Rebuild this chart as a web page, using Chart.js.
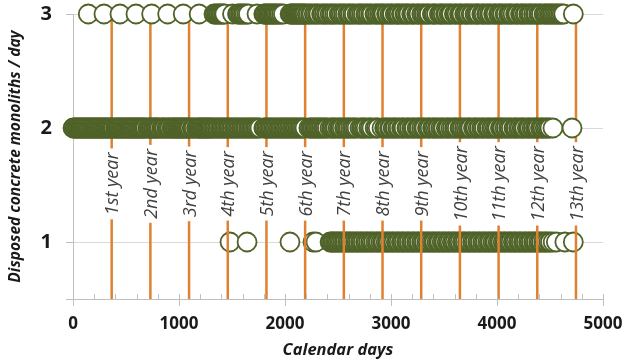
<!DOCTYPE html>
<html>
<head>
<meta charset="utf-8">
<script src="https://cdn.jsdelivr.net/npm/chart.js@4"></script>
<style>
  body { margin: 0; background: #fff; }
  #wrap { width: 625px; height: 364px; position: relative; }
</style>
</head>
<body>
<div id="wrap"><canvas id="disposal-chart"></canvas></div>
<script>
// calendar days on which 3, 2 or 1 monoliths were disposed
const level3Days = [144, 292, 443, 594, 742, 893, 1040, 1190,
  1330, 1342, 1356, 1368, 1380, 1394, 1406, 1420, 1432, 1505,
  1552, 1566, 1580, 1594, 1608, 1622, 1640, 1655, 1736,
  1800, 1810, 1822, 1833, 1845, 1856, 1868, 1879, 1891, 1902, 1914, 1926, 1940, 1952, 1968, 1985,
  2048, 2058, 2068, 2079, 2089, 2099, 2110, 2120, 2130, 2141, 2151, 2161, 2172, 2182, 2192,
  2210, 2224, 2242, 2255, 2276, 2290, 2306, 2320, 2345, 2358, 2372, 2390, 2404, 2425, 2440, 2452, 2470,
  2486, 2510, 2522, 2538, 2555, 2570, 2592, 2606, 2620, 2640, 2654, 2680, 2694, 2708, 2725, 2740, 2762,
  2775, 2790, 2808, 2822, 2848, 2860, 2875, 2892, 2908, 2922, 2934, 2958, 2970, 2990, 3004, 3015, 3040,
  3052, 3066, 3078, 3098, 3110, 3132, 3142, 3158, 3170, 3195, 3206, 3218, 3242, 3256, 3265, 3290, 3304,
  3318, 3336, 3350, 3362, 3390, 3400, 3414, 3430, 3456, 3468, 3480, 3494, 3515, 3528, 3548, 3560, 3572,
  3598, 3610, 3624, 3646, 3658, 3670, 3695, 3708, 3720, 3735, 3756, 3768, 3792, 3804, 3816, 3830, 3856,
  3868, 3880, 3902, 3914, 3930, 3944, 3968, 3980, 3992, 4015, 4026, 4040, 4054, 4076, 4088, 4110, 4122,
  4134, 4152, 4175, 4186, 4198, 4222, 4234, 4246, 4265, 4278, 4300, 4312, 4325, 4345, 4362, 4374, 4394,
  4406, 4420, 4444, 4456, 4468, 4484, 4500, 4512, 4526, 4540, 4556, 4570, 4585, 4600, 4615, 4630, 4720];

const level2Days = [0, 9, 21, 30, 41, 50, 62, 71, 80, 92, 101, 113, 122, 131, 143, 152, 164, 173, 182, 194,
  203, 215, 224, 233, 245, 254, 266, 275, 284, 296, 305, 317, 326, 335, 347, 356, 368, 377, 386, 402, 411,
  423, 432, 441, 453, 462, 474, 483, 492, 504, 513, 525, 534, 543, 555, 564, 576, 585, 594, 606, 615, 627,
  636, 645, 657, 666, 678, 687, 706, 715, 727, 736, 745, 757, 766, 778, 787, 796, 808, 820, 838, 847, 859,
  868, 886, 895, 907, 916, 934, 943, 952, 964, 973, 985, 994, 1003, 1015, 1024, 1036, 1045, 1054, 1066,
  1075, 1087, 1096, 1105, 1124, 1133, 1145, 1165, 1174, 1186, 1195, 1207, 1216, 1228, 1237, 1246, 1258,
  1267, 1279, 1288, 1297,
  1310, 1322, 1336, 1348, 1362, 1374, 1390, 1402, 1415, 1428, 1440, 1455, 1468, 1480, 1494, 1506, 1522,
  1534, 1548, 1560, 1574, 1588, 1600, 1614, 1628, 1640, 1656, 1668, 1682, 1694, 1708, 1722, 1734, 1748,
  1764, 1800, 1812, 1826, 1838, 1852, 1866, 1878, 1892, 1906, 1918, 1934, 1946, 1960, 1972, 1986, 2000,
  2012, 2026, 2040, 2052, 2068, 2080, 2094, 2106, 2120, 2134, 2146, 2160, 2174, 2189, 2225, 2238, 2252,
  2264, 2278, 2292, 2304, 2318, 2332, 2344, 2360, 2372, 2386, 2400, 2424, 2440, 2452, 2466, 2480, 2500,
  2514, 2526, 2540, 2562, 2576, 2590, 2602, 2620, 2636, 2650, 2664, 2680, 2707, 2722, 2736, 2750, 2766,
  2790, 2804, 2820, 2850, 2864, 2880, 2915, 2940, 2952, 2966, 2986, 2998, 3020, 3032, 3044, 3064, 3078,
  3100, 3110, 3124, 3150, 3160, 3176, 3196, 3210, 3222, 3246, 3258, 3270, 3290, 3306, 3320, 3344, 3356,
  3370, 3392, 3404, 3418, 3436, 3450, 3470, 3484, 3498, 3522, 3534, 3546, 3566, 3582, 3600, 3612, 3626,
  3650, 3662, 3676, 3694, 3710, 3728, 3740, 3754, 3778, 3790, 3802, 3822, 3836, 3856, 3868, 3882, 3906,
  3918, 3930, 3950, 3964, 3982, 3994, 4008, 4032, 4044, 4056, 4076, 4090, 4110, 4122, 4136, 4160, 4172,
  4184, 4204, 4218, 4236, 4248, 4262, 4286, 4298, 4310, 4330, 4344, 4362, 4374, 4388, 4410, 4422, 4436,
  4455, 4470, 4485, 4500, 4528, 4708];

const level1Days = [1481, 1642, 2047, 2264, 2292, 2425, 2436, 2450, 2462, 2476, 2490, 2502, 2516, 2530,
  2546, 2560, 2572, 2590, 2604, 2618, 2634, 2648, 2666, 2680, 2694, 2712, 2726, 2740, 2760, 2774, 2790,
  2808, 2822, 2838, 2858, 2872, 2886, 2905, 2920, 2934, 2954, 2968, 2982, 3002, 3016, 3030, 3050, 3064,
  3078, 3098, 3112, 3126, 3146, 3160, 3174, 3194, 3208, 3222, 3242, 3256, 3270, 3290, 3304, 3318, 3338,
  3352, 3366, 3386, 3400, 3414, 3434, 3448, 3462, 3482, 3496, 3510, 3530, 3544, 3558, 3578, 3592, 3606,
  3626, 3640, 3654, 3674, 3688, 3702, 3722, 3736, 3750, 3770, 3784, 3798, 3818, 3832, 3846, 3866, 3880,
  3894, 3914, 3928, 3942, 3962, 3976, 3990, 4010, 4024, 4038, 4058, 4072, 4086, 4106, 4120, 4134, 4154,
  4168, 4182, 4202, 4216, 4230, 4250, 4264, 4278, 4298, 4312, 4326, 4346, 4360, 4374, 4394, 4408, 4422,
  4442, 4456, 4470, 4490, 4505, 4530, 4560, 4640, 4720];

const yearDays = [365, 730, 1095, 1460, 1825, 2190, 2555, 2920, 3285, 3650, 4015, 4380, 4745];
const yearLabels = ['1st year', '2nd year', '3rd year', '4th year', '5th year', '6th year', '7th year',
  '8th year', '9th year', '10th year', '11th year', '12th year', '13th year'];

const yTickValues = [0.5, 1, 2, 3];
const xMin = 0, xMax = 5000;

const green = '#4f6228';
const orange = '#e0812f';

const toPoints = (days, level) => days.map(d => ({ x: d, y: level }));

// each year line goes from the bottom of the axis to the top, separated by a gap
const yearLinePoints = [];
yearDays.forEach(d => {
  yearLinePoints.push({ x: d, y: 0.5 }, { x: d, y: 3 }, { x: d, y: null });
});

const pointStyle = {
  type: 'scatter',
  pointRadius: 9.5,
  pointHoverRadius: 9.5,
  pointBorderWidth: 1.8,
  pointBackgroundColor: '#fff',
  pointBorderColor: green,
  showLine: false,
  clip: false,
};

// year labels sit on a white box over the orange lines
const yearLabelPlugin = {
  id: 'yearLabels',
  afterDatasetsDraw(chart) {
    const { ctx, scales: { x, y } } = chart;
    ctx.save();
    ctx.font = 'italic 18px "Open Sans"';
    ctx.textAlign = 'center';
    ctx.textBaseline = 'middle';
    yearDays.forEach((d, i) => {
      const px = x.getPixelForValue(d);
      const py = y.getPixelForValue(1.51);
      const w = ctx.measureText(yearLabels[i]).width;
      ctx.save();
      ctx.translate(px, py);
      ctx.rotate(-Math.PI / 2);
      ctx.fillStyle = '#fff';
      ctx.fillRect(-w / 2 - 4, -10, w + 8, 20);
      ctx.fillStyle = '#404040';
      ctx.fillText(yearLabels[i], 0, 1.5);
      ctx.restore();
    });
    ctx.restore();
  }
};

// short minor ticks every 200 days inside the plot, on the x axis line
const minorTickPlugin = {
  id: 'minorTicks',
  afterDraw(chart) {
    const { ctx, scales: { x }, chartArea } = chart;
    ctx.save();
    ctx.strokeStyle = '#bfbfbf';
    ctx.lineWidth = 1;
    for (let v = xMin; v <= xMax; v += 200) {
      const px = Math.round(x.getPixelForValue(v)) + 0.5;
      ctx.beginPath();
      ctx.moveTo(px, chartArea.bottom);
      ctx.lineTo(px, chartArea.bottom - 5);
      ctx.stroke();
    }
    ctx.restore();
  }
};

const container = document.getElementById('disposal-chart').getContext('2d');
const chart = new Chart(container, {
  type: 'scatter',
  data: {
    datasets: [
      { ...pointStyle, label: '1 / day', data: toPoints(level1Days, 1), order: 3 },
      {
        type: 'line',
        label: 'years',
        data: yearLinePoints,
        borderColor: orange,
        borderWidth: 2.5,
        pointRadius: 0,
        spanGaps: false,
        order: 2,
      },
      { ...pointStyle, label: '2 / day', data: toPoints(level2Days, 2), order: 1 },
      { ...pointStyle, label: '3 / day', data: toPoints(level3Days, 3), order: 1 },
    ],
  },
  options: {
    animation: false,
    responsive: true,
    maintainAspectRatio: false,
    layout: { padding: { top: 14, right: 22, left: 0, bottom: 0 } },
    plugins: {
      legend: { display: false },
      tooltip: { enabled: false },
    },
    scales: {
      x: {
        type: 'linear',
        min: xMin,
        max: xMax,
        afterFit: scale => {
          scale.height = 65;
          scale.paddingLeft = 0;
          scale.paddingRight = 0;
        },
        ticks: {
          stepSize: 1000,
          padding: 8,
          maxRotation: 0,
          color: '#1a1a1a',
          callback: v => String(v),
          font: { family: 'Open Sans', size: 17, weight: 'bold' },
        },
        grid: { drawOnChartArea: false, tickLength: 7, tickColor: '#bfbfbf' },
        border: { color: '#bfbfbf' },
        title: {
          display: true,
          text: 'Calendar days',
          color: '#1a1a1a',
          padding: { top: 4, bottom: 4 },
          font: { family: 'Open Sans', size: 16.5, weight: 'bold', style: 'italic' },
        },
      },
      y: {
        type: 'linear',
        min: 0.5,
        max: 3,
        afterFit: scale => {
          scale.width = 73;
          scale.paddingTop = 0;
          scale.paddingBottom = 0;
        },
        afterBuildTicks: scale => { scale.ticks = yTickValues.map(v => ({ value: v })); },
        ticks: {
          padding: 14,
          color: '#1a1a1a',
          callback: v => (v === 0.5 ? '' : v),
          font: { family: 'Open Sans', size: 20, weight: 'bold' },
        },
        grid: { color: '#d9d9d9', tickLength: 7, tickColor: '#bfbfbf' },
        border: { color: '#bfbfbf' },
        title: {
          display: true,
          text: 'Disposed concrete monoliths / day',
          color: '#1a1a1a',
          padding: { top: 6, bottom: 6 },
          font: { family: 'Open Sans', size: 15.5, weight: 'bold', style: 'italic' },
        },
      },
    },
  },
  plugins: [yearLabelPlugin, minorTickPlugin],
});
</script>
</body>
</html>
